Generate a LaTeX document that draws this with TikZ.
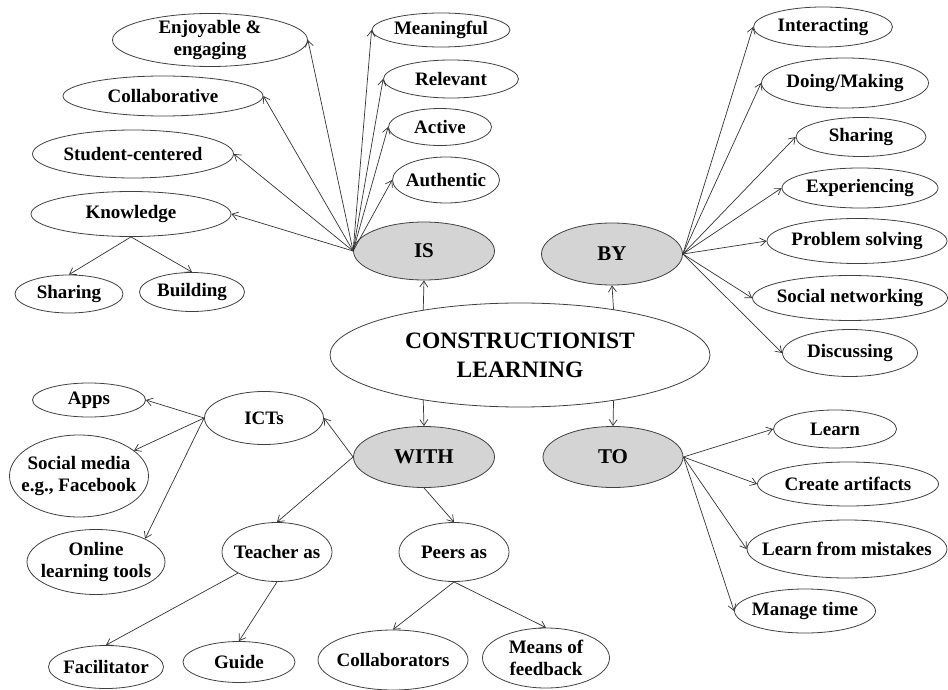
\documentclass[tikz,border=0pt]{standalone}
\usepackage{fontspec}
\setmainfont{Liberation Serif}
\usetikzlibrary{arrows.meta, shapes.geometric}

\begin{document}
\begin{tikzpicture}[x=1pt, y=-1pt,
  >={Straight Barb[length=6pt,width=8pt]},
  every node/.style={ellipse, draw=black!75, line width=0.8pt,
    inner xsep=-20pt, inner ysep=-8pt, align=center,
    font=\bfseries\fontsize{19}{22}\selectfont},
  hub/.style={fill=black!17, font=\bfseries\fontsize{21}{24}\selectfont},
  wh/.style 2 args={minimum width=#1pt, minimum height=#2pt},
  link/.style={->, draw=black!80, line width=0.7pt}
 ]
 \useasboundingbox (0,0) rectangle (948,690);

 % centre and the four hubs
 \node [wh={380}{104}, font=\bfseries\fontsize{23.5}{29}\selectfont] (CL) at (520,355) {CONSTRUCTIONIST\\LEARNING};
 \node [hub, wh={141}{58}] (IS) at (424,251) {IS};
 \node [hub, wh={141}{62}] (BY) at (612,254) {BY};
 \node [hub, wh={141}{61}] (WITH) at (424,457) {WITH};
 \node [hub, wh={140}{61}] (TO) at (613,457) {TO};

 \draw [link] (CL.155) -- (IS.south);
 \draw [link] (CL.26) -- (BY.south);
 \draw [link] (CL.205) -- (WITH.north);
 \draw [link] (CL.334) -- (TO.north);

 % IS
 \node [wh={195}{53}] (enjoy) at (210,40) {Enjoyable \&\\engaging};
 \node [wh={138}{34}] (meaning) at (441,30) {Meaningful};
 \node [wh={135}{38}] (relevant) at (451,79) {Relevant};
 \node [wh={200}{40}] (collab) at (163,96) {Collaborative};
 \node [wh={103}{37}] (active) at (440,127) {Active};
 \node [wh={201}{48}] (student) at (133,154) {Student-centered};
 \node [wh={107}{46}] (authentic) at (446,180) {Authentic};
 \node [wh={200}{45}] (knowledge) at (131,214) {Knowledge};
 \node [wh={108}{38}] (sharingK) at (69,294) {Sharing};
 \node [wh={105}{39}] (building) at (192,292) {Building};

 \foreach \n in {enjoy, collab, student, knowledge}
  \draw [link] (IS.west) -- (\n.east);
 \foreach \n in {meaning, relevant, active, authentic}
  \draw [link] (IS.west) -- (\n.west);
 \draw [link] (knowledge.south) -- (sharingK.north);
 \draw [link] (knowledge.south) -- (building.north);

 % BY
 \node [wh={139}{40}] (interact) at (823,27) {Interacting};
 \node [wh={167}{50}] (doing) at (845,83) {Doing/Making};
 \node [wh={130}{39}] (sharingB) at (861,137) {Sharing};
 \node [wh={156}{40}] (experi) at (860,188) {Experiencing};
 \node [wh={180}{45}] (problem) at (857,241) {Problem solving};
 \node [wh={195}{45}] (social) at (850,298) {Social networking};
 \node [wh={135}{47}] (discuss) at (850,353) {Discussing};

 \foreach \n in {interact, doing, sharingB, experi, problem, social, discuss}
  \draw [link] (BY.east) -- (\n.west);

 % WITH
 \node [wh={119}{53}] (icts) at (264,418) {ICTs};
 \node [wh={113}{34}] (apps) at (89,400) {Apps};
 \node [wh={139}{82}] (socmed) at (79,476) {Social media\\e.g., Facebook};
 \node [wh={138}{65}] (online) at (96,562) {Online\\learning tools};
 \node [wh={110}{59}] (teacher) at (277,552) {Teacher as};
 \node [wh={110}{59}] (peers) at (454,552) {Peers as};
 \node [wh={115}{43}] (facil) at (106,667) {Facilitator};
 \node [wh={112}{41}] (guide) at (239,662) {Guide};
 \node [wh={150}{60}] (collabs) at (393,660) {Collaborators};
 \node [wh={127}{60}] (means) at (546,658) {Means of\\feedback};

 \draw [link] (WITH.west) -- (icts.east);
 \draw [link] (icts.west) -- (apps.east);
 \draw [link] (icts.west) -- (socmed);
 \draw [link] (icts.west) -- (online.north east);
 \draw [link] (WITH.west) -- (teacher.north);
 \draw [link] (WITH.south) -- (peers.north);
 \draw [link] (teacher.south west) -- (facil.north);
 \draw [link] (teacher.south) -- (guide.north);
 \draw [link] (peers.south) -- (collabs.north);
 \draw [link] (peers.south) -- (means.north);

 % TO
 \node [wh={123}{38}] (learn) at (835,429) {Learn};
 \node [wh={181}{44}] (create) at (848,484) {Create artifacts};
 \node [wh={200}{58}] (mistakes) at (847,549) {Learn from mistakes};
 \node [wh={141}{44}] (manage) at (805,611) {Manage time};

 \foreach \n in {learn, create, mistakes, manage}
  \draw [link] (TO.east) -- (\n.west);
\end{tikzpicture}
\end{document}
